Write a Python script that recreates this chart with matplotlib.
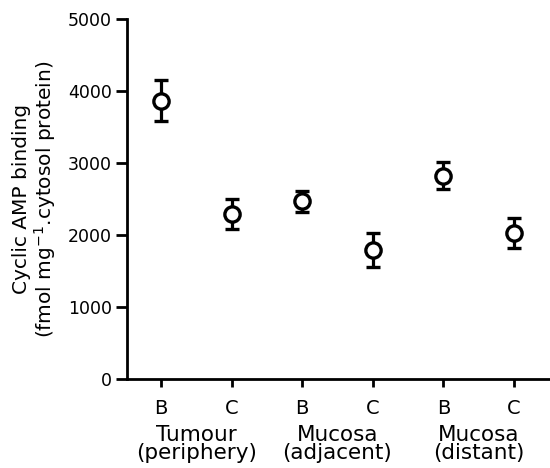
import matplotlib
matplotlib.use('Agg')
import matplotlib.pyplot as plt

# data
sub_labels = ['B', 'C', 'B', 'C', 'B', 'C']
group_labels = ['Tumour\n(periphery)', 'Mucosa\n(adjacent)', 'Mucosa\n(distant)']
means = [3870, 2300, 2470, 1800, 2830, 2030]
errors = [285, 210, 150, 235, 190, 210]

plt.rcParams['font.family'] = ['DejaVu Sans']

fig = plt.figure(figsize=(5.5, 4.68), dpi=100)
ax = fig.add_axes([0.231, 0.1895, 0.769, 0.7693])

x = list(range(1, len(means) + 1))
ax.errorbar(x, means, yerr=errors, fmt='o', color='black', ecolor='black',
            markersize=11, markerfacecolor='white', markeredgewidth=2.4,
            elinewidth=2.3, capsize=5, capthick=2.4)

ax.set_xlim(0.52, 6.51)
ax.set_ylim(0, 5000)
ax.set_yticks([0, 1000, 2000, 3000, 4000, 5000])
ax.set_xticks(x)
ax.set_xticklabels(sub_labels, fontsize=14)
ax.tick_params(axis='y', labelsize=12.5, length=8, width=2, direction='out', pad=3)
ax.tick_params(axis='x', length=6, width=2, direction='out', pad=8)

for s in ['top', 'right']:
    ax.spines[s].set_visible(False)
for s in ['left', 'bottom']:
    ax.spines[s].set_linewidth(2)

ax.set_ylabel('Cyclic AMP binding\n(fmol mg$^{-1}$.cytosol protein)', fontsize=14.5,
              linespacing=1.05, labelpad=7)

# group labels under each B/C pair
for i, lab in enumerate(group_labels):
    ax.text(2 * i + 1.5, -0.128, lab, transform=ax.get_xaxis_transform(),
            ha='center', va='top', fontsize=15.5, linespacing=0.88)

fig.savefig('out.png', dpi=100)
